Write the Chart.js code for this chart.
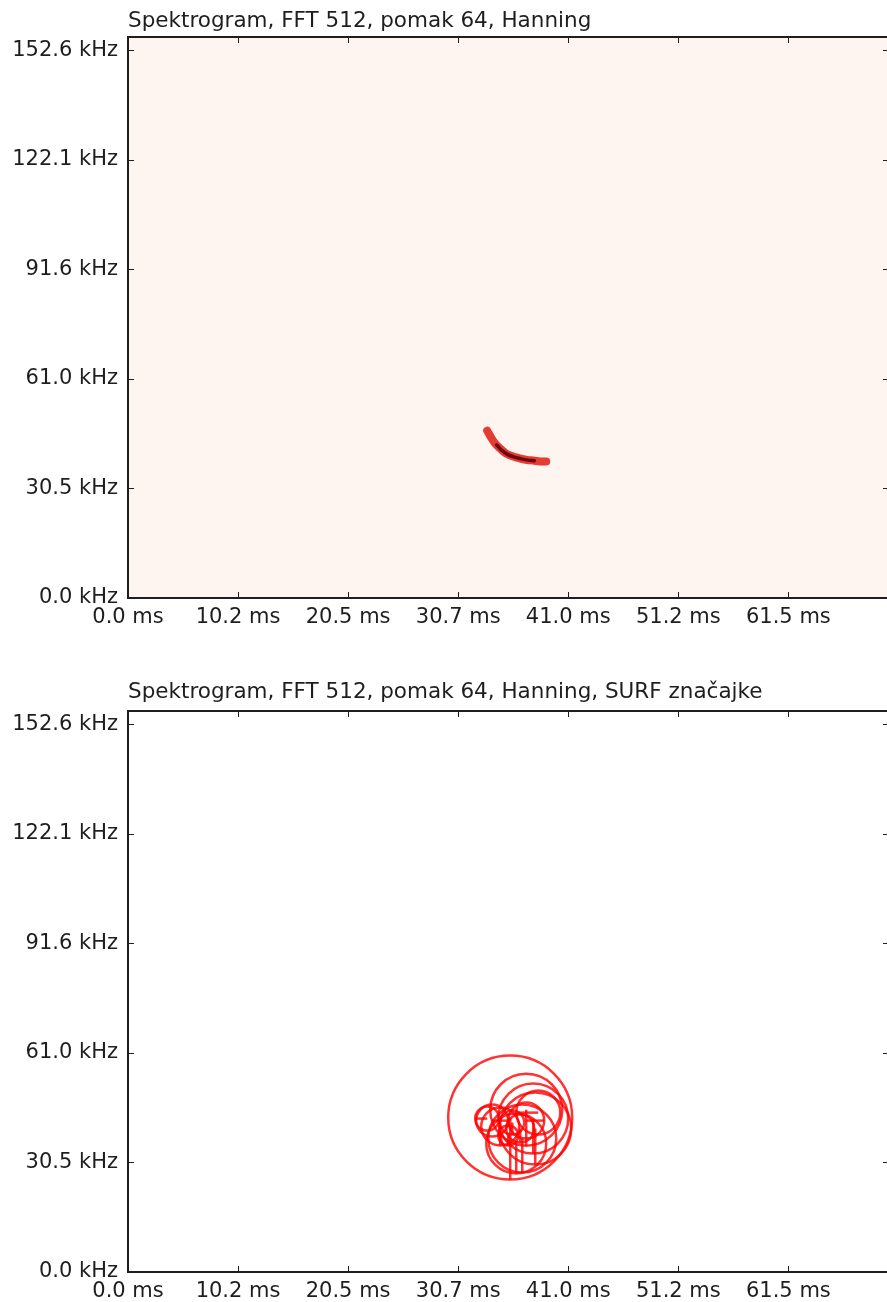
<!DOCTYPE html>
<html>
<head>
<meta charset="utf-8">
<script src="https://cdn.jsdelivr.net/npm/chart.js@4.4.1/dist/chart.umd.min.js"></script>
<style>
    html, body { margin: 0; padding: 0; background: #fff; overflow: hidden; }
    .wrap { position: absolute; left: 0; width: 887px; height: 650px; overflow: hidden; }
</style>
</head>
<body>
<div class="wrap" style="top:0px"><canvas id="specChart" width="900" height="650"></canvas></div>
<div class="wrap" style="top:674px; height:628px"><canvas id="surfChart" width="900" height="650"></canvas></div>
<script>
// axes (ms / kHz), ticks every 50 frames / 50 bins
const xTicks = [0, 10.24, 20.48, 30.72, 40.96, 51.2, 61.44];
const xTickLabels = ["0.0 ms", "10.2 ms", "20.5 ms", "30.7 ms", "41.0 ms", "51.2 ms", "61.5 ms"];
const yTicks = [0, 30.52, 61.04, 91.55, 122.07, 152.59];
const yTickLabels = ["0.0 kHz", "30.5 kHz", "61.0 kHz", "91.6 kHz", "122.1 kHz", "152.6 kHz"];
const xMax = 70.8;
const yMax = 156.25;

// spectrogram ridge (call of the bat)
const ridgeTime = [33.42, 33.79, 34.16, 34.63, 35.19, 35.84, 36.49, 37.14, 37.70, 38.35, 38.91];
const ridgeFreq = [46.61, 44.67, 43.01, 41.62, 40.23, 39.40, 38.85, 38.43, 38.30, 38.02, 38.02];
const coreTime = [34.30, 34.75, 35.30, 35.95, 36.60, 37.25, 37.80];
const coreFreq = [42.60, 41.20, 40.00, 39.25, 38.75, 38.40, 38.25];

// SURF keypoints: centre (ms, kHz), radius (px), orientation (deg)
const surfTime = [35.56, 37.05, 37.70, 37.89, 36.68, 36.12, 38.17, 33.88, 34.63, 33.42, 35.75, 36.49, 35.37, 37.05];
const surfFreq = [43.00, 45.20, 42.73, 39.95, 37.18, 35.79, 44.39, 42.17, 40.51, 42.73, 41.62, 39.95, 38.01, 42.17];
const surfSize = [62, 36, 35, 36, 34, 30, 22, 16, 19, 12, 12, 14, 10, 18];
const surfAngle = [90, 90, 90, 90, 90, 90, 180, 0, 90, 180, 90, 90, 90, 0];

const titles = [
    "Spektrogram, FFT 512, pomak 64, Hanning",
    "Spektrogram, FFT 512, pomak 64, Hanning, SURF značajke",
];

const font = "DejaVu Sans";
const ink = "#1e1e1e";

const framePlugin = {
    id: "frame",
    beforeDatasetsDraw(chart, args, opts) {
        const a = chart.chartArea;
        const ctx = chart.ctx;
        if (opts.bg) {
            ctx.save();
            ctx.fillStyle = opts.bg;
            ctx.fillRect(a.left, a.top, a.right - a.left, a.bottom - a.top);
            ctx.restore();
        }
    },
    afterDraw(chart, args, opts) {
        const a = chart.chartArea;
        const ctx = chart.ctx;
        const xs = chart.scales.x;
        const ys = chart.scales.y;
        ctx.save();
        ctx.strokeStyle = ink;
        ctx.lineWidth = 1;
        ctx.beginPath();
        xs.ticks.forEach((t) => {
            const px = Math.round(xs.getPixelForValue(t.value)) + 0.5;
            ctx.moveTo(px, a.bottom); ctx.lineTo(px, a.bottom - 6);
            ctx.moveTo(px, a.top); ctx.lineTo(px, a.top + 6);
        });
        ys.ticks.forEach((t) => {
            const py = Math.round(ys.getPixelForValue(t.value)) + 0.5;
            ctx.moveTo(a.left, py); ctx.lineTo(a.left + 6, py);
            ctx.moveTo(a.right, py); ctx.lineTo(a.right - 6, py);
        });
        ctx.stroke();
        ctx.lineWidth = 2;
        ctx.strokeRect(a.left, a.top, a.right - a.left, a.bottom - a.top);
        ctx.fillStyle = ink;
        ctx.font = "21.5px '" + font + "'";
        ctx.textAlign = "left";
        ctx.textBaseline = "alphabetic";
        ctx.fillText(opts.title, a.left, a.top - opts.gap);
        ctx.restore();
    },
};

const spokePlugin = {
    id: "spokes",
    afterDatasetsDraw(chart) {
        if (chart.canvas.id !== "surfChart") return;
        const meta = chart.getDatasetMeta(0);
        const ctx = chart.ctx;
        ctx.save();
        ctx.strokeStyle = "rgba(255, 0, 0, 0.8)";
        ctx.lineWidth = 2.5;
        meta.data.forEach((el, i) => {
            const ang = (surfAngle[i] * Math.PI) / 180;
            ctx.beginPath();
            ctx.moveTo(el.x, el.y);
            ctx.lineTo(el.x + Math.cos(ang) * surfSize[i], el.y + Math.sin(ang) * surfSize[i]);
            ctx.stroke();
        });
        ctx.restore();
    },
};

const makeScales = () => ({
    x: {
        type: "linear",
        min: 0,
        max: xMax,
        afterBuildTicks: (s) => { s.ticks = xTicks.map((v) => ({ value: v })); },
        afterFit: (s) => { s.height = 52; },
        grid: { display: false, drawTicks: false },
        border: { display: false },
        ticks: {
            padding: 7,
            color: ink,
            font: { family: font, size: 21 },
            maxRotation: 0,
            autoSkip: false,
            callback: (v, i) => xTickLabels[i],
        },
    },
    y: {
        type: "linear",
        min: 0,
        max: yMax,
        afterBuildTicks: (s) => { s.ticks = yTicks.map((v) => ({ value: v })); },
        afterFit: (s) => { s.width = 128; },
        grid: { display: false, drawTicks: false },
        border: { display: false },
        ticks: {
            padding: 10,
            color: ink,
            font: { family: font, size: 21 },
            autoSkip: false,
            callback: (v, i) => yTickLabels[i],
        },
    },
});

const baseOptions = (title, bg, gap) => ({
    responsive: false,
    animation: false,
    events: [],
    layout: { autoPadding: false, padding: { top: 37, right: 11, left: 0, bottom: 0 } },
    plugins: {
        legend: { display: false },
        tooltip: { enabled: false },
        frame: { title: title, bg: bg, gap: gap },
    },
    scales: makeScales(),
});

new Chart(document.getElementById("specChart").getContext("2d"), {
    type: "line",
    data: {
        datasets: [
            {
                data: ridgeTime.map((t, i) => ({ x: t, y: ridgeFreq[i] })),
                borderColor: "rgba(226, 42, 34, 0.92)",
                borderWidth: 8,
                borderCapStyle: "round",
                borderJoinStyle: "round",
                pointRadius: 0,
                tension: 0.4,
                fill: false,
                order: 2,
            },
            {
                data: coreTime.map((t, i) => ({ x: t, y: coreFreq[i] })),
                borderColor: "#6e0710",
                borderWidth: 3.5,
                borderCapStyle: "round",
                pointRadius: 0,
                tension: 0.4,
                fill: false,
                order: 1,
            },
        ],
    },
    options: baseOptions(titles[0], "#fff5f0", 10),
    plugins: [framePlugin],
});

new Chart(document.getElementById("surfChart").getContext("2d"), {
    type: "bubble",
    data: {
        datasets: [
            {
                data: surfTime.map((t, i) => ({ x: t, y: surfFreq[i], r: surfSize[i] })),
                backgroundColor: "rgba(0, 0, 0, 0)",
                borderColor: "rgba(255, 0, 0, 0.8)",
                borderWidth: 2.5,
                hoverRadius: 0,
            },
        ],
    },
    options: baseOptions(titles[1], null, 13),
    plugins: [framePlugin, spokePlugin],
});
</script>
</body>
</html>
